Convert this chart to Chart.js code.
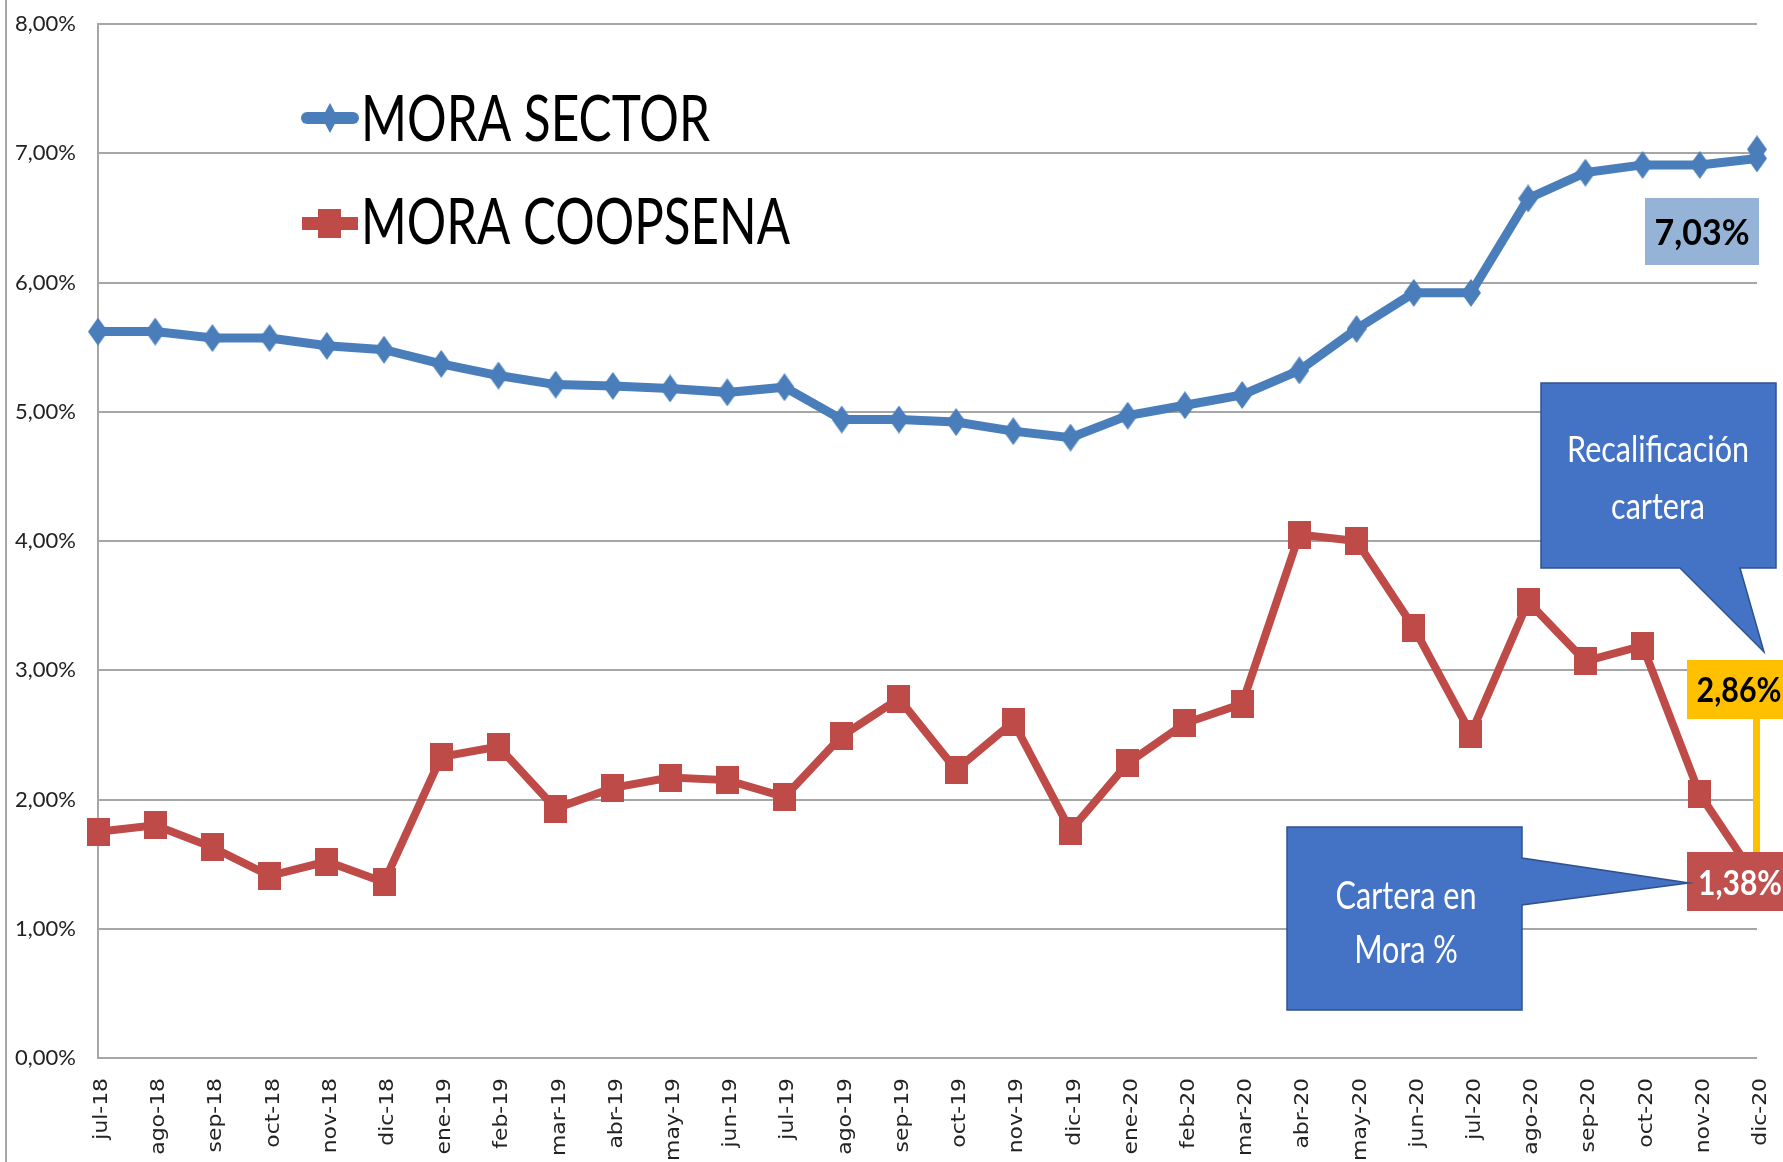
<!DOCTYPE html>
<html><head><meta charset="utf-8">
<script src="https://cdn.jsdelivr.net/npm/chart.js@4.4.1/dist/chart.umd.min.js"></script>
<style>html,body{margin:0;padding:0;background:#fff;overflow:hidden;} canvas{display:block;}</style>
</head><body>
<canvas id="c" width="1783" height="1162"></canvas>
<script>
// ---------- DATA ----------
const categorias = ["jul-18","ago-18","sep-18","oct-18","nov-18","dic-18","ene-19","feb-19","mar-19","abr-19","may-19","jun-19","jul-19","ago-19","sep-19","oct-19","nov-19","dic-19","ene-20","feb-20","mar-20","abr-20","may-20","jun-20","jul-20","ago-20","sep-20","oct-20","nov-20","dic-20"];
const moraSector = [5.62,5.62,5.57,5.57,5.51,5.48,5.37,5.28,5.21,5.20,5.18,5.15,5.19,4.94,4.94,4.92,4.85,4.80,4.97,5.05,5.13,5.32,5.64,5.92,5.92,6.65,6.85,6.91,6.91,6.96];
const moraSectorCierre = 7.03;
const moraCoopsena = [1.75,1.80,1.63,1.41,1.52,1.36,2.33,2.41,1.93,2.09,2.17,2.15,2.02,2.49,2.78,2.23,2.60,1.76,2.28,2.59,2.74,4.05,4.00,3.33,2.51,3.53,3.07,3.19,2.04,1.38];
const yTickLabels = ["0,00%","1,00%","2,00%","3,00%","4,00%","5,00%","6,00%","7,00%","8,00%"];
const serieNombres = ["MORA SECTOR","MORA COOPSENA"];
const etiquetaSector = "7,03%";
const etiquetaRecalificada = "2,86%";
const etiquetaCoopsena = "1,38%";
const calloutRecalificacion = ["Recalificación","cartera"];
const calloutCartera = ["Cartera en","Mora %"];

// ---------- STYLE ----------
const AZUL = "#4a7ebb";
const ROJO = "#be4b48";
const CALLOUT = "#4472c4";
const CALLOUT_BORDE = "#2f528f";
const GRID = "#a6a6a6";
const FONT = "Lato";

function makeDiamond(w, h, color) {
  const c = document.createElement("canvas");
  c.width = w; c.height = h;
  const g = c.getContext("2d");
  g.fillStyle = color;
  g.beginPath();
  g.moveTo(w/2, 0); g.lineTo(w, h/2); g.lineTo(w/2, h); g.lineTo(0, h/2); g.closePath();
  g.fill();
  return c;
}
function makeRect(w, h, color) {
  const c = document.createElement("canvas");
  c.width = w; c.height = h;
  const g = c.getContext("2d");
  g.fillStyle = color;
  g.fillRect(0, 0, w, h);
  return c;
}

function fontSizeForCap(ctx, capH, weight, family) {
  ctx.font = `${weight} 100px ${family}`;
  const a = ctx.measureText("H").actualBoundingBoxAscent || 72;
  return capH * 100 / a;
}
function fitText(ctx, text, x, baseline, o) {
  const size = o.size || fontSizeForCap(ctx, o.capH, o.weight || "normal", o.family || FONT);
  ctx.font = `${o.weight || "normal"} ${size}px ${o.family || FONT}`;
  let sx = o.sx;
  if (!sx) {
    const w = ctx.measureText(text).width;
    sx = o.width ? o.width / w : 1;
  }
  ctx.save();
  ctx.translate(x, baseline);
  ctx.scale(sx, 1);
  ctx.textAlign = o.align || "left";
  ctx.textBaseline = "alphabetic";
  ctx.fillStyle = o.color || "#000";
  ctx.fillText(text, 0, 0);
  ctx.restore();
  return {size, sx};
}

const decorPlugin = {
  id: "decor",
  beforeDraw(chart) {
    const ctx = chart.ctx;
    ctx.save();
    ctx.fillStyle = "#fff";
    ctx.fillRect(0, 0, chart.width, chart.height);
    ctx.strokeStyle = GRID;
    ctx.lineWidth = 2;
    ctx.beginPath(); ctx.moveTo(6, 0); ctx.lineTo(6, chart.height); ctx.stroke();
    ctx.restore();
  },
  afterDatasetsDraw(chart) {
    const ctx = chart.ctx;
    ctx.save();
    ctx.fillStyle = "#95b3d7";
    ctx.fillRect(1645, 198, 114, 67);
    fitText(ctx, etiquetaSector, 1702, 245, {capH: 27, width: 95, weight: "bold", align: "center", color: "#000"});

    ctx.fillStyle = "#ffc000";
    ctx.fillRect(1753, 715, 7, 140);
    ctx.fillRect(1687, 660, 110, 59);
    fitText(ctx, etiquetaRecalificada, 1739, 702, {capH: 25, width: 85, weight: "bold", align: "center", color: "#000"});

    ctx.fillStyle = "#c0504d";
    ctx.fillRect(1687, 852, 110, 59);
    fitText(ctx, etiquetaCoopsena, 1740, 895, {capH: 25, width: 84, weight: "bold", align: "center", color: "#fff"});

    ctx.beginPath();
    ctx.moveTo(1541, 383); ctx.lineTo(1776, 383); ctx.lineTo(1776, 568);
    ctx.lineTo(1740, 568); ctx.lineTo(1764, 652); ctx.lineTo(1680, 568);
    ctx.lineTo(1541, 568); ctx.closePath();
    ctx.fillStyle = CALLOUT; ctx.fill();
    ctx.strokeStyle = CALLOUT_BORDE; ctx.lineWidth = 1.5; ctx.stroke();
    const r1 = fitText(ctx, calloutRecalificacion[0], 1658, 462, {capH: 27, width: 182, align: "center", color: "#fff"});
    fitText(ctx, calloutRecalificacion[1], 1658, 519, {size: r1.size, sx: r1.sx, align: "center", color: "#fff"});

    ctx.beginPath();
    ctx.moveTo(1287, 827); ctx.lineTo(1522, 827); ctx.lineTo(1522, 858);
    ctx.lineTo(1689, 883); ctx.lineTo(1522, 905); ctx.lineTo(1522, 1010);
    ctx.lineTo(1287, 1010); ctx.closePath();
    ctx.fillStyle = CALLOUT; ctx.fill();
    ctx.strokeStyle = CALLOUT_BORDE; ctx.lineWidth = 1.5; ctx.stroke();
    const r2 = fitText(ctx, calloutCartera[0], 1406, 909, {capH: 28, width: 141, align: "center", color: "#fff"});
    fitText(ctx, calloutCartera[1], 1406, 963, {size: r2.size, sx: r2.sx, align: "center", color: "#fff"});

    ctx.strokeStyle = AZUL; ctx.lineWidth = 12; ctx.lineCap = "round";
    ctx.beginPath(); ctx.moveTo(307, 118); ctx.lineTo(353, 118); ctx.stroke();
    ctx.drawImage(makeDiamond(16, 30, AZUL), 322, 103);
    ctx.fillStyle = ROJO;
    ctx.fillRect(302, 217, 56, 13);
    ctx.fillRect(318, 209, 23, 29);
    fitText(ctx, serieNombres[0], 361, 141, {capH: 47, width: 349, align: "left", color: "#000"});
    fitText(ctx, serieNombres[1], 361, 244, {capH: 47, width: 429, align: "left", color: "#000"});
    ctx.restore();
  },
  afterDraw(chart) {
    const ctx = chart.ctx;
    const xs = chart.scales.x;
    ctx.save();
    ctx.fillStyle = "#222";
    ctx.font = '19px "DejaVu Sans"';
    ctx.textAlign = "right";
    ctx.textBaseline = "alphabetic";
    categorias.forEach((lab, i) => {
      const x = xs.getPixelForValue(i);
      ctx.save();
      ctx.translate(x, 1078);
      ctx.rotate(-Math.PI / 2);
      ctx.scale(1.15, 1);
      ctx.fillText(lab, 0, 9);
      ctx.restore();
    });
    ctx.restore();
  }
};

function build() {
  const diamond = makeDiamond(20, 28, AZUL);
  const square = makeRect(23, 28, ROJO);
  const cierre = categorias.map((_, i) => (i === categorias.length - 1 ? moraSectorCierre : null));
  new Chart(document.getElementById("c"), {
    type: "line",
    data: {
      labels: categorias,
      datasets: [
        {label: serieNombres[0], data: moraSector, borderColor: AZUL, backgroundColor: AZUL, borderWidth: 9,
         pointStyle: diamond, pointRadius: 10, pointHoverRadius: 10, tension: 0, fill: false, clip: false},
        {label: serieNombres[0] + " cierre", data: cierre, showLine: false, borderColor: AZUL, backgroundColor: AZUL,
         pointStyle: diamond, pointRadius: 10, clip: false},
        {label: serieNombres[1], data: moraCoopsena, borderColor: ROJO, backgroundColor: ROJO, borderWidth: 8,
         pointStyle: square, pointRadius: 11, pointHoverRadius: 11, tension: 0, fill: false, clip: false}
      ]
    },
    options: {
      responsive: false, animation: false, devicePixelRatio: 1,
      layout: {padding: {left: 0, right: 26, top: 24, bottom: 0}},
      plugins: {legend: {display: false}, tooltip: {enabled: false}},
      scales: {
        x: {offset: false, grid: {display: false}, border: {display: false}, ticks: {display: false},
            afterFit(s) { s.height = 104; s.paddingLeft = 0; s.paddingRight = 0; }},
        y: {min: 0, max: 8,
            ticks: {stepSize: 1, padding: 22, color: "#222", font: {family: FONT, size: 22},
                    callback: (v) => yTickLabels[Math.round(v)]},
            grid: {color: GRID, lineWidth: 2, drawTicks: false},
            border: {color: GRID, width: 2},
            afterFit(s) { s.width = 98; s.paddingTop = 0; s.paddingBottom = 0; }}
      }
    },
    plugins: [decorPlugin]
  });
}
const fl = document.fonts ? Promise.all([
  document.fonts.load('22px Lato'), document.fonts.load('bold 30px Lato'), document.fonts.load('19px "DejaVu Sans"')
]).catch(() => {}) : Promise.resolve();
fl.then(build, build);
</script>
</body></html>
